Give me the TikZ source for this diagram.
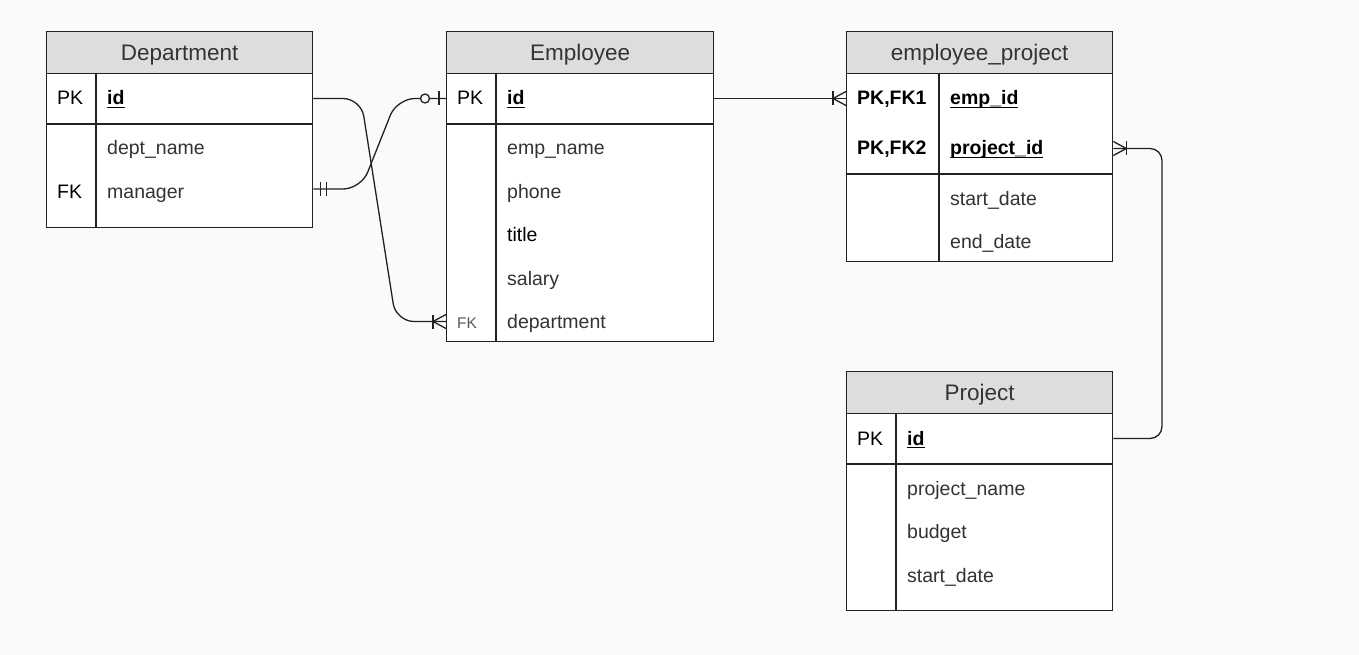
\documentclass[tikz,border=0pt]{standalone}
\usepackage{fontspec}
\setmainfont{Liberation Sans}
\usetikzlibrary{calc}

\definecolor{bggray}{HTML}{FAFAFA}
\definecolor{headgray}{HTML}{DDDDDD}
\definecolor{linegray}{HTML}{222222}
\definecolor{textgray}{HTML}{333333}

% bold underlined key column
\newcommand\keyfield[1]{\setbox0\hbox{\bfseries #1}\rlap{\rule[-2.6pt]{\wd0}{0.9pt}}\box0}

\begin{document}
\begin{tikzpicture}[
    x=1pt, y=-1pt,
    tbl/.style={
        draw=linegray,
        line width=1.3pt,
        fill=white,
        anchor=north west,
        minimum width=266pt,
        inner sep=0pt
    },
    head/.style={
        draw=linegray,
        line width=1.3pt,
        fill=headgray,
        anchor=north west,
        minimum width=266pt,
        minimum height=42pt,
        inner sep=0pt,
        text height=16pt,
        text depth=0pt,
        text=textgray,
        font=\fontsize{22.5}{26}\selectfont
    },
    field/.style={
        anchor=west,
        inner sep=0pt,
        text height=16pt,
        text depth=3pt,
        text=textgray,
        font=\fontsize{19.5}{23}\selectfont
    },
    key/.style={field, text=black},
    sep/.style={draw=linegray, line width=1.3pt},
    rel/.style={draw=linegray, line width=1.3pt, rounded corners=18pt},
    notation/.style={draw=linegray, line width=1.3pt}
]

% Background
\fill[bggray] (0,0) rectangle (1359,655);
\useasboundingbox (0,0) rectangle (1359,655);

% Department
\node[tbl, minimum height=196pt] (dept) at (46,31) {};
\node[head] (dept-head) at (dept.north west) {Department};
\draw[sep] (46,124) -- (312,124) (96,73) -- (96,227);
\node[key] (dept-pk) at (57,98.5) {PK};
\node[key] (dept-id) at (107,98.5) {\keyfield{id}};
\node[field] (dept-name) at (107,148.5) {dept\_name};
\node[key] (dept-fk) at (57,191.5) {FK};
\node[field] (dept-mgr) at (107,191.5) {manager};

% Employee
\node[tbl, minimum width=267pt, minimum height=310pt] (emp) at (446,31) {};
\node[head, minimum width=267pt] (emp-head) at (emp.north west) {Employee};
\draw[sep] (446,124) -- (713,124) (496,73) -- (496,341);
\node[key] (emp-pk) at (457,98.5) {PK};
\node[key] (emp-id) at (507,98.5) {\keyfield{id}};
\node[field] (emp-name) at (507,148.5) {emp\_name};
\node[field] (emp-phone) at (507,191.5) {phone};
\node[key] (emp-title) at (507,235) {title};
\node[field] (emp-salary) at (507,278.5) {salary};
\node[field, font=\fontsize{15.5}{18}\selectfont, text=black!65] (emp-fk) at (457,321.5) {FK};
\node[field] (emp-dept) at (507,321.5) {department};

% employee_project
\node[tbl, minimum height=230pt] (ep) at (846,31) {};
\node[head] (ep-head) at (ep.north west) {employee\_project};
\draw[sep] (846,174) -- (1112,174) (939,73) -- (939,261);
\node[key, font=\fontsize{19.5}{23}\selectfont\bfseries] (ep-fk1) at (857,98.5) {PK,FK1};
\node[key] (ep-emp) at (950,98.5) {\keyfield{emp\_id}};
\node[key, font=\fontsize{19.5}{23}\selectfont\bfseries] (ep-fk2) at (857,148.5) {PK,FK2};
\node[key] (ep-proj) at (950,148.5) {\keyfield{project\_id}};
\node[field] (ep-start) at (950,198.5) {start\_date};
\node[field] (ep-end) at (950,241.5) {end\_date};

% Project
\node[tbl, minimum height=239pt] (proj) at (846,371) {};
\node[head] (proj-head) at (proj.north west) {Project};
\draw[sep] (846,464) -- (1112,464) (896,413) -- (896,610);
\node[key] (proj-pk) at (857,438.5) {PK};
\node[key] (proj-id) at (907,438.5) {\keyfield{id}};
\node[field] (proj-name) at (907,488.5) {project\_name};
\node[field] (proj-budget) at (907,531.5) {budget};
\node[field] (proj-start) at (907,575.5) {start\_date};

% Ports
\coordinate (dept-id-port) at (dept.east |- dept-id);
\coordinate (dept-mgr-port) at ([yshift=2.5pt]dept.east |- dept-mgr);
\coordinate (emp-id-port) at (emp.west |- emp-id);
\coordinate (emp-id-out) at (emp.east |- emp-id);
\coordinate (emp-dept-port) at (emp.west |- emp-dept);
\coordinate (ep-emp-port) at (ep.west |- ep-emp);
\coordinate (ep-proj-port) at (ep.east |- ep-proj);
\coordinate (proj-id-port) at (proj.east |- proj-id);

% Relationships
\draw[rel] (dept-id-port) -- (361,98.5) -- (396,321.5) -- (emp-dept-port);
\draw[rel] (dept-mgr-port) -- (361,189) -- (397,98.5) -- (emp-id-port);
\draw[rel] (emp-id-out) -- (ep-emp-port);
\draw[rel, rounded corners=12pt] (proj-id-port) -- (1162,438.5) -- (1162,148.5) -- (ep-proj-port);

% Crow's feet (one or many)
\draw[notation] (emp-dept-port) ++(-13,-7) -- ++(0,14);
\draw[notation] (emp-dept-port) ++(0,-7) -- ++(-13,7) -- ++(13,7);
\draw[notation] (ep-emp-port) ++(-13,-7) -- ++(0,14);
\draw[notation] (ep-emp-port) ++(0,-7) -- ++(-13,7) -- ++(13,7);
\draw[notation] (ep-proj-port) ++(13,-7) -- ++(0,14);
\draw[notation] (ep-proj-port) ++(0,-7) -- ++(13,7) -- ++(-13,7);

% Zero or one
\draw[notation] (emp-id-port) ++(-7,-7) -- ++(0,14);
\draw[notation, fill=bggray] (emp-id-port) ++(-21,0) circle (4.5);

% Exactly one
\draw[notation] (dept-mgr-port) ++(7,-7) -- ++(0,14);
\draw[notation] (dept-mgr-port) ++(13,-7) -- ++(0,14);

\end{tikzpicture}
\end{document}
